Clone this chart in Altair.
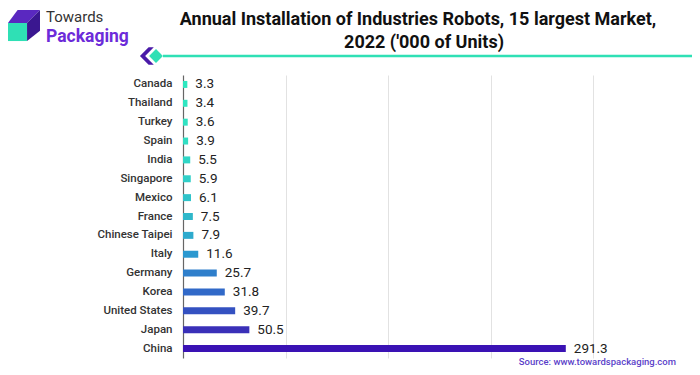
import altair as alt
import pandas as pd

countries = ["Canada", "Thailand", "Turkey", "Spain", "India", "Singapore", "Mexico",
             "France", "Chinese Taipei", "Italy", "Germany", "Korea", "United States",
             "Japan", "China"]
values = [3.3, 3.4, 3.6, 3.9, 5.5, 5.9, 6.1, 7.5, 7.9, 11.6, 25.7, 31.8, 39.7, 50.5, 291.3]
bar_colors = ["#2ee8c0", "#2fe6c1", "#31e2c2", "#31dec3", "#30d6c6", "#31cfc8", "#30c3c9",
              "#2fb7ca", "#2eaacd", "#2b98d0", "#2f7fcb", "#3169c8", "#3451c1", "#3a30b8",
              "#3a12b4"]
grid_values = [78, 156, 234, 312]

title_lines = ["Annual Installation of Industries Robots, 15 largest Market,", "2022 ('000 of Units)"]
source_text = "Source: www.towardspackaging.com"

df = pd.DataFrame({"country": countries, "value": values})

W, H = 410, 283
FONT = "Roboto"

y_enc = alt.Y("country:N", sort=countries,
              scale=alt.Scale(paddingInner=0.63, paddingOuter=0.315),
              axis=alt.Axis(title=None, ticks=False, grid=False, domainColor="#666666",
                            domainWidth=1.2, labelPadding=11, labelFontSize=11.5,
                            labelFontWeight=500, labelColor="#333333", labelFont=FONT))
x_enc = alt.X("value:Q", scale=alt.Scale(domain=[0, 312], nice=False),
              axis=alt.Axis(title=None, labels=False, ticks=False, domain=False,
                            values=grid_values, gridColor="#e2e2e2", gridWidth=1))

bars = alt.Chart(df).mark_bar().encode(
    x=x_enc, y=y_enc,
    color=alt.Color("country:N", sort=countries,
                    scale=alt.Scale(domain=countries, range=bar_colors), legend=None),
)
labels = alt.Chart(df).mark_text(align="left", baseline="middle", dx=8, fontSize=13.5,
                                 font=FONT, color="#222222").encode(
    x="value:Q", y=alt.Y("country:N", sort=countries), text=alt.Text("value:Q", format=".1f"))

one = pd.DataFrame({"a": [0]})
base = alt.Chart(one)

title1 = base.mark_text(align="center", baseline="alphabetic", fontSize=18, fontWeight="bold",
                        font=FONT, color="#111111").encode(
    x=alt.value(235), y=alt.value(-50), text=alt.value(title_lines[0]))
title2 = base.mark_text(align="center", baseline="alphabetic", fontSize=18, fontWeight="bold",
                        font=FONT, color="#111111").encode(
    x=alt.value(241), y=alt.value(-27), text=alt.value(title_lines[1]))

teal_line = base.mark_rule(color="#2fe0b5", strokeWidth=2.5).encode(
    x=alt.value(-20), x2=alt.value(520), y=alt.value(-19))
diamond = base.mark_point(shape="diamond", filled=True, opacity=1, color="#2fe0b5",
                          size=190).encode(x=alt.value(-27), y=alt.value(-19))
chevron = base.mark_point(
    shape="M0.3,-1 L-0.7,0 L0.3,1 L0.9,1 L-0.1,0 L0.9,-1 Z",
    filled=True, opacity=1, color="#4a1aa8", size=300).encode(
    x=alt.value(-37), y=alt.value(-19))

cube_front = base.mark_point(shape="M-1,-0.19 L0.19,-0.19 L0.19,0.94 L-1,0.94 Z", filled=True,
                             opacity=1, color="#2fe0b5", size=1024).encode(
    x=alt.value(-159), y=alt.value(-49))
cube_top = base.mark_point(shape="M-1,-0.19 L-0.4,-1 L1,-1 L0.19,-0.19 Z", filled=True,
                           opacity=1, color="#5a28c0", size=1024).encode(
    x=alt.value(-159), y=alt.value(-49))
cube_side = base.mark_point(shape="M0.19,-0.19 L1,-1 L1,0.3 L0.19,0.94 Z", filled=True,
                            opacity=1, color="#3a1790", size=1024).encode(
    x=alt.value(-159), y=alt.value(-49))

logo1 = base.mark_text(align="left", baseline="middle", fontSize=15, font=FONT,
                       color="#333333").encode(
    x=alt.value(-137), y=alt.value(-58), text=alt.value("Towards"))
logo2 = base.mark_text(align="left", baseline="middle", fontSize=17.5, fontWeight="bold",
                       font=FONT, color="#6c2bd9").encode(
    x=alt.value(-137), y=alt.value(-38), text=alt.value("Packaging"))

source = base.mark_text(align="right", baseline="middle", fontSize=9.5, fontWeight=500,
                        font=FONT, color="#5b3fc9").encode(
    x=alt.value(493), y=alt.value(287), text=alt.value(source_text))

chart = alt.layer(bars, labels, title1, title2, teal_line, diamond, chevron,
                  cube_front, cube_top, cube_side, logo1, logo2, source).properties(
    width=W, height=H,
    autosize=alt.AutoSizeParams(type="none"),
    padding={"left": 175, "top": 67, "right": 99, "bottom": 9},
).configure_view(stroke=None)

chart.save("out.html", embed_options={"renderer": "svg", "actions": False})
